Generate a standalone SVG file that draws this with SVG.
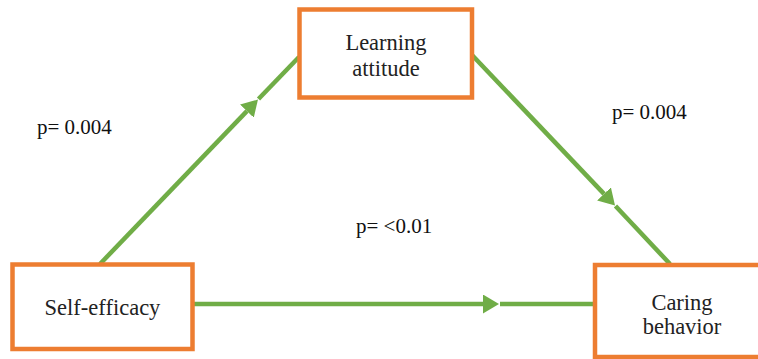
<svg xmlns="http://www.w3.org/2000/svg" width="758" height="359" viewBox="0 0 758 359">
<style>
.box{fill:#fff;stroke:#ED7D31;stroke-width:4.5}
.edge{fill:none;stroke:#70AD47;stroke-width:4.5}
.lbl{font-family:"Liberation Serif","Times New Roman",serif;font-size:22.5px;fill:#222;text-anchor:middle}
.p{font-family:"Liberation Serif","Times New Roman",serif;font-size:21px;fill:#111}
</style>
<defs>
<marker id="ah" viewBox="0 0 16 19" markerWidth="16" markerHeight="19" refX="0" refY="9.5" orient="auto" markerUnits="userSpaceOnUse">
<path d="M0,0 L16,9.5 L0,19 z" fill="#70AD47"/>
</marker>
</defs>
<rect width="758" height="359" fill="#fff"/>
<g id="connectors">
<path class="edge" d="M100,264 L246.9,111.1" marker-end="url(#ah)"/>
<path class="edge" d="M258.5,99 L299,57"/>
<path class="edge" d="M472,55 L604,193.9" marker-end="url(#ah)"/>
<path class="edge" d="M615.5,206 L670,264"/>
<path class="edge" d="M193,304 L483,304" marker-end="url(#ah)"/>
<path class="edge" d="M500,304 L595,304"/>
</g>
<g id="learning">
<rect class="box" x="299.5" y="9.5" width="172.5" height="88"/>
<text class="lbl" x="386" y="50">Learning</text>
<text class="lbl" x="386" y="76">attitude</text>
</g>
<g id="self">
<rect class="box" x="12.5" y="264.5" width="180" height="84.5"/>
<text class="lbl" x="102.5" y="315">Self-efficacy</text>
</g>
<g id="caring">
<rect class="box" x="595" y="265" width="200" height="92"/>
<text class="lbl" x="682" y="310">Caring</text>
<text class="lbl" x="682" y="334">behavior</text>
</g>
<g id="labels">
<text class="p" x="37" y="134">p= 0.004</text>
<text class="p" x="612" y="119">p= 0.004</text>
<text class="p" x="356" y="233">p= &lt;0.01</text>
</g>
</svg>
